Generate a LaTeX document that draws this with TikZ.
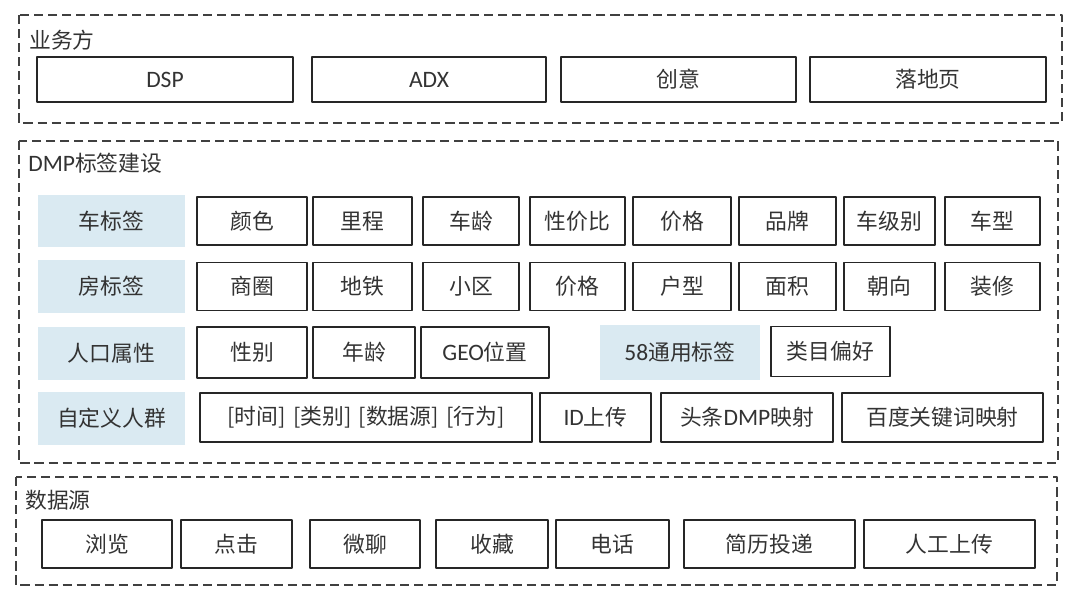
\documentclass[tikz,border=0pt]{standalone}
\usepackage{fontspec}
\setmainfont{Noto Sans CJK SC}
\newfontfamily\lat[Scale=1.08]{Carlito}
\definecolor{tagblue}{RGB}{218,234,242}
\newcommand\pxu{0.7113pt}
\begin{document}
\begin{tikzpicture}[x=0.025cm, y=-0.025cm, font=\fontsize{15.5}{18}\selectfont, text=black!80, line join=round,
  cell/.style={draw=black!85, line width=.9pt, inner sep=0pt, minimum height=48*\pxu},
  tag/.style={fill=tagblue, inner sep=0pt, minimum width=147*\pxu, minimum height=52*\pxu},
  group/.style={draw=black!75, line width=.9pt, dash pattern=on 6.5pt off 3.5pt},
  title/.style={anchor=west, inner sep=0pt}]
 \useasboundingbox (0,0) rectangle (1080,609);
 % groups
 \draw[group] (19,15) rectangle (1062,123);
 \draw[group] (19,141) rectangle (1058,463);
 \draw[group] (16,477) rectangle (1057,585);
 \node[title] (bizT) at (29,40) {业务方};
 \node[title] (dmpT) at (28,163) {{\lat DMP}标签建设};
 \node[title] (srcT) at (25,500) {数据源};
 % business side
 \foreach \l/\r/\t [count=\i] in {37/293/{\lat DSP}, 312/546/{\lat ADX}, 561/796/创意, 810/1046/落地页}
  \node[cell, minimum width=(\r-\l)*\pxu, minimum height=45*\pxu] (biz\i) at ({(\l+\r)/2},79.5) {\t};
 % tag rows
 \node[tag] (carT) at (111.5,221) {车标签};
 \node[tag] (houseT) at (111.5,286.5) {房标签};
 \node[tag] (personT) at (111.5,353.5) {人口属性};
 \node[tag] (customT) at (111.5,418.5) {自定义人群};
 \foreach \l/\r/\t [count=\i] in {197/307/颜色, 313/412/里程, 423/519/车龄, 530/625/性价比, 633/731/价格, 739/836/品牌, 844/935/车级别, 945/1040/车型}
  \node[cell, minimum width=(\r-\l)*\pxu] (car\i) at ({(\l+\r)/2},221) {\t};
 \foreach \l/\r/\t [count=\i] in {197/307/商圈, 313/412/地铁, 423/519/小区, 530/625/价格, 633/731/户型, 739/836/面积, 844/935/朝向, 945/1040/装修}
  \node[cell, minimum width=(\r-\l)*\pxu] (house\i) at ({(\l+\r)/2},286.5) {\t};
 \foreach \l/\r/\t [count=\i] in {197/307/性别, 313/415/年龄, 421/549/{{\lat GEO}位置}}
  \node[cell, minimum width=(\r-\l)*\pxu, minimum height=51*\pxu] (person\i) at ({(\l+\r)/2},352.5) {\t};
 \node[tag, minimum width=160*\pxu, minimum height=55*\pxu] (commonT) at (680,352.5) {{\lat 58}通用标签};
 \node[cell, minimum width=119*\pxu, minimum height=50*\pxu] (common1) at (830.5,351.5) {类目偏好};
 \foreach \l/\r/\t [count=\i] in {200/532/{[时间]\,\,[类别]\,\,[数据源]\,\,[行为]}, 540/651/{{\lat ID}上传}, 661/833/{头条{\lat DMP}映射}, 842/1043/百度关键词映射}
  \node[cell, minimum width=(\r-\l)*\pxu, minimum height=49*\pxu] (custom\i) at ({(\l+\r)/2},417.5) {\t};
 % data sources
 \foreach \l/\r/\t [count=\i] in {42/172/浏览, 181/292/点击, 310/420/微聊, 436/548/收藏, 556/669/电话, 684/855/简历投递, 864/1035/人工上传}
  \node[cell, minimum width=(\r-\l)*\pxu] (src\i) at ({(\l+\r)/2},544) {\t};
\end{tikzpicture}
\end{document}
